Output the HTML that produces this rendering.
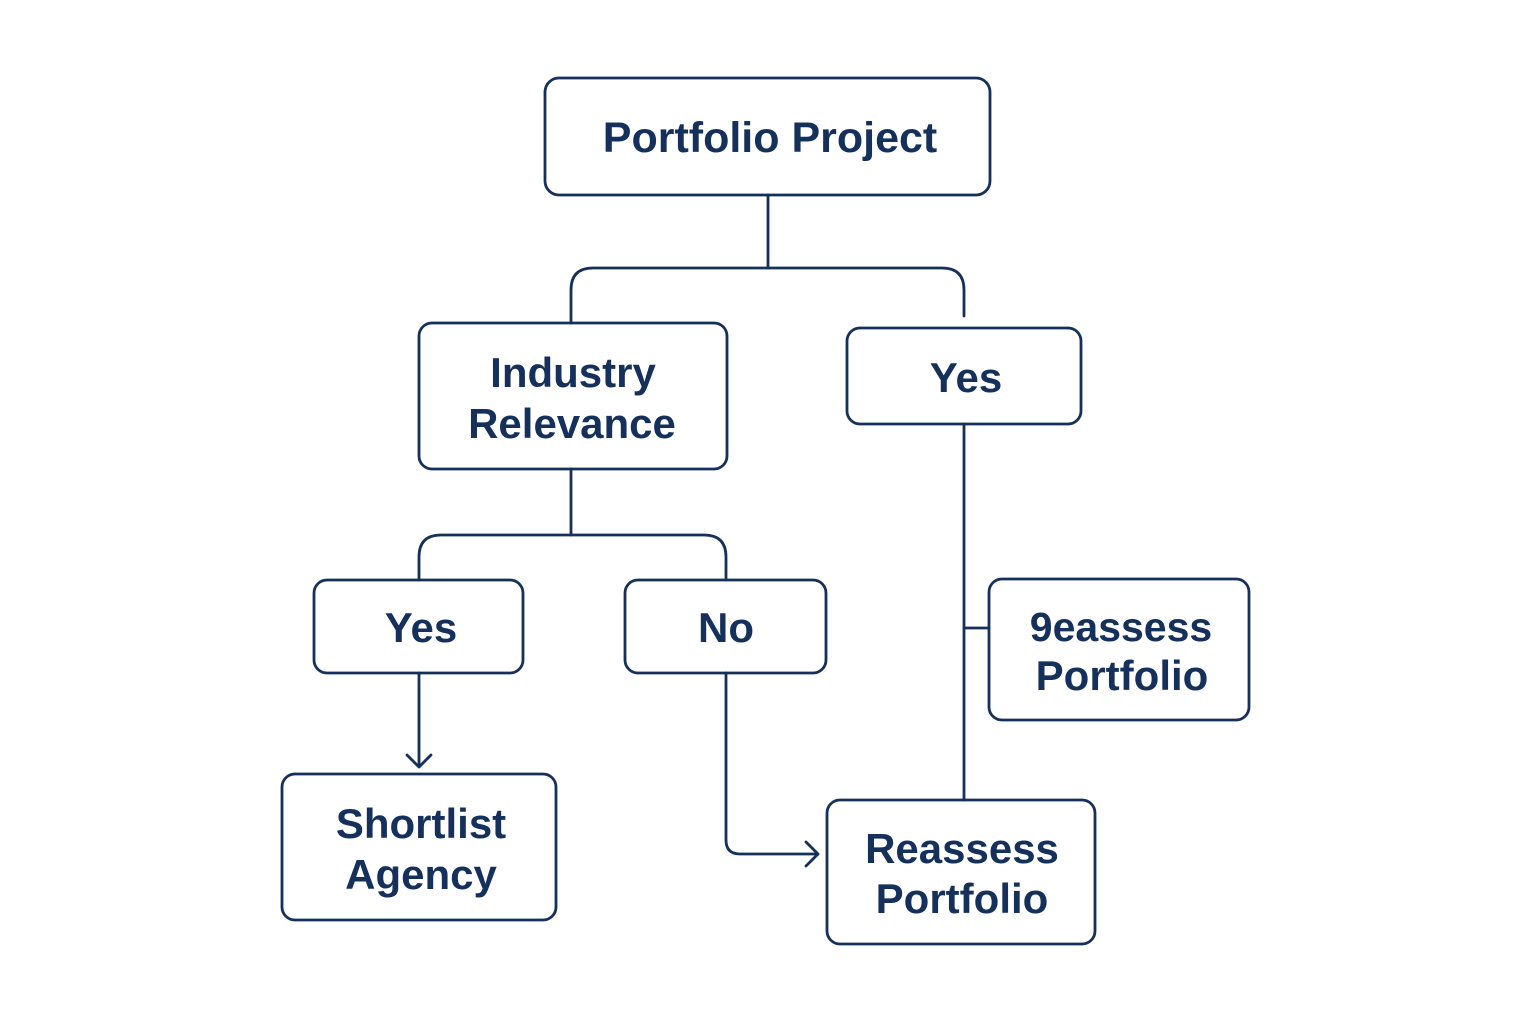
<!DOCTYPE html>
<html><head><meta charset="utf-8"><style>
html,body{margin:0;padding:0;background:#fff;}
svg{display:block}
text{font-family:"Liberation Sans",sans-serif;fill:#15305a;text-anchor:middle;font-weight:bold}
</style></head><body>
<svg width="1536" height="1024" viewBox="0 0 1536 1024">
<g fill="none" stroke="#15305a" stroke-width="2.8" stroke-linecap="round" stroke-linejoin="round">
<rect x="545" y="78" width="445" height="117" rx="14"/>
<rect x="419" y="323" width="308" height="146" rx="13"/>
<rect x="847" y="328" width="234" height="96" rx="13"/>
<rect x="314" y="580" width="209" height="93" rx="13"/>
<rect x="625" y="580" width="201" height="93" rx="13"/>
<rect x="989" y="579" width="260" height="141" rx="13"/>
<rect x="282" y="774" width="274" height="146" rx="13"/>
<rect x="827" y="800" width="268" height="144" rx="13"/>
<path d="M768 195V268"/>
<path d="M571 323V290Q571 268 593 268H942Q964 268 964 290V316"/>
<path d="M571 469V535"/>
<path d="M419 580V557Q419 535 441 535H704Q726 535 726 557V580"/>
<path d="M964 424V800"/>
<path d="M964 628H989"/>
<path d="M419 673V767M407 755L419 767L431 755"/>
<path d="M726 673V840Q726 854 740 854H818M806 842L818 854L806 866"/>
</g>
<text x="770" y="152" font-size="43">Portfolio Project</text>
<text x="573" y="387" font-size="42">Industry</text>
<text x="572" y="438" font-size="42">Relevance</text>
<text x="966" y="392" font-size="42">Yes</text>
<text x="421" y="642" font-size="42">Yes</text>
<text x="726" y="642" font-size="42">No</text>
<text x="1121" y="641" font-size="41">9eassess</text>
<text x="1122" y="690" font-size="42">Portfolio</text>
<text x="421" y="838" font-size="42">Shortlist</text>
<text x="421" y="889" font-size="42">Agency</text>
<text x="962" y="863" font-size="42">Reassess</text>
<text x="962" y="913" font-size="42">Portfolio</text>
</svg>
</body></html>
